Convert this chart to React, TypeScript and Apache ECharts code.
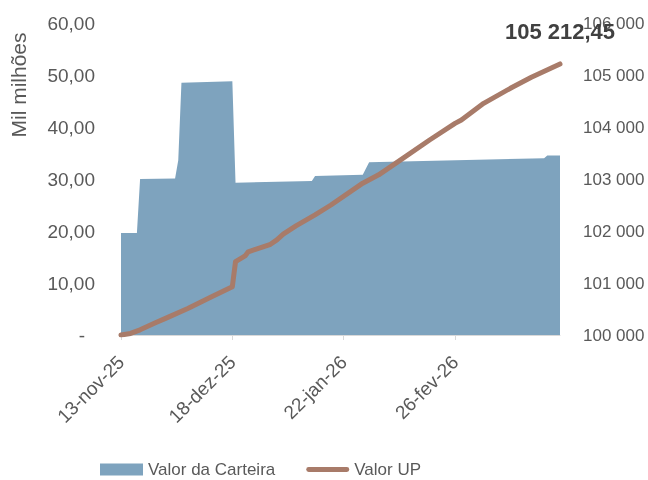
import React, { useEffect, useRef } from "react";
import * as echarts from "echarts";

const START_DATE = "2025-11-13";
const END_DATE = "2026-03-31";
const TICK_DATES = ["2025-11-13", "2025-12-18", "2026-01-22", "2026-02-26"];

const carteiraDates = [
  "2025-11-13", "2025-11-18", "2025-11-19", "2025-11-30", "2025-12-01", "2025-12-02",
  "2025-12-18", "2025-12-19", "2026-01-12", "2026-01-13", "2026-01-28", "2026-01-30",
  "2026-03-26", "2026-03-27", "2026-03-31",
];
const carteiraValues = [
  19.6, 19.6, 30.0, 30.1, 33.6, 48.5,
  48.8, 29.3, 29.6, 30.6, 30.8, 33.2,
  34.0, 34.5, 34.5,
];

const upDates = [
  "2025-11-13", "2025-11-16", "2025-11-19", "2025-11-24", "2025-11-27", "2025-12-04",
  "2025-12-11", "2025-12-18", "2025-12-19", "2025-12-22", "2025-12-23", "2025-12-30",
  "2026-01-01", "2026-01-03", "2026-01-07", "2026-01-13", "2026-01-18", "2026-01-28",
  "2026-02-02", "2026-02-08", "2026-02-18", "2026-02-26", "2026-02-28", "2026-03-07",
  "2026-03-16", "2026-03-22", "2026-03-31",
];
const upValues = [
  100000, 100030, 100100, 100240, 100320, 100510,
  100720, 100930, 101410, 101520, 101600, 101745,
  101830, 101940, 102100, 102310, 102500, 102920,
  103080, 103330, 103750, 104070, 104135, 104455,
  104765, 104955, 105212.45,
];

const MONTHS = ["jan", "fev", "mar", "abr", "mai", "jun", "jul", "ago", "set", "out", "nov", "dez"];
const DAY = 86400000;
const t0 = Date.UTC(2025, 10, 13);
const toIdx = (s: string) => {
  const [y, m, d] = s.split("-").map(Number);
  return Math.round((Date.UTC(y, m - 1, d) - t0) / DAY);
};
const idxToLabel = (i: number) => {
  const dt = new Date(t0 + i * DAY);
  const dd = String(dt.getUTCDate()).padStart(2, "0");
  return `${dd}-${MONTHS[dt.getUTCMonth()]}-${String(dt.getUTCFullYear()).slice(2)}`;
};
const fmtThousands = (v: number) => String(Math.round(v)).replace(/\B(?=(\d{3})+(?!\d))/g, " ");
const fmtUP = (v: number) => {
  const [ip, dp] = v.toFixed(2).split(".");
  return ip.replace(/\B(?=(\d{3})+(?!\d))/g, " ") + "," + dp;
};

const GREY = "#595959";
const FONT = "'Liberation Sans', Arial, sans-serif";
const LINE_ICON = "path://M2.5,0 H42.5 A2.5,2.5 0 0 1 42.5,5 H2.5 A2.5,2.5 0 0 1 2.5,0 Z";

export default function App() {
  const ref = useRef<HTMLDivElement>(null);
  useEffect(() => {
    if (!ref.current) return;
    const chart = echarts.init(ref.current, null, { renderer: "svg" });
    const tickIdx = TICK_DATES.map(toIdx);
    const lastUp = upValues.length - 1;
    chart.setOption({
      animation: false,
      textStyle: { fontFamily: FONT },
      grid: { left: 121, right: 88, top: 23, bottom: 145, containLabel: false },
      legend: {
        left: 100,
        top: 461,
        padding: 0,
        itemWidth: 43,
        itemHeight: 12,
        itemGap: 31,
        textStyle: { color: GREY, fontSize: 17, fontFamily: FONT },
        data: [
          { name: "Valor da Carteira", icon: "rect" },
          { name: "Valor UP", icon: LINE_ICON },
        ],
      },
      xAxis: {
        type: "value",
        min: toIdx(START_DATE),
        max: toIdx(END_DATE),
        interval: 35,
        splitLine: { show: false },
        axisLine: { show: true, lineStyle: { color: "#d9d9d9", width: 1 } },
        axisTick: { show: true, length: 5, lineStyle: { color: "#d9d9d9" }, customValues: tickIdx },
        axisLabel: {
          customValues: tickIdx,
          rotate: 45,
          margin: 24,
          color: GREY,
          fontSize: 19,
          fontFamily: FONT,
          formatter: (v: number) => idxToLabel(v),
        },
      },
      yAxis: [
        {
          type: "value",
          min: 0,
          max: 60,
          interval: 10,
          splitLine: { show: false },
          axisLine: { show: false },
          axisTick: { show: false },
          axisLabel: {
            margin: 26,
            color: GREY,
            fontSize: 19,
            fontFamily: FONT,
            formatter: (v: number) => (v === 0 ? "{d|-}" : v.toFixed(2).replace(".", ",")),
            rich: { d: { padding: [0, 10, 0, 0], color: GREY, fontSize: 19, fontFamily: FONT } },
          },
        },
        {
          type: "value",
          min: 100000,
          max: 106000,
          interval: 1000,
          splitLine: { show: false },
          axisLine: { show: false },
          axisTick: { show: false },
          axisLabel: {
            margin: 23,
            color: GREY,
            fontSize: 17,
            fontFamily: FONT,
            formatter: (v: number) => fmtThousands(v),
          },
        },
      ],
      graphic: [
        {
          type: "text",
          x: 18,
          y: 85,
          rotation: Math.PI / 2,
          style: {
            text: "Mil milhões",
            fill: GREY,
            fontSize: 21,
            fontFamily: FONT,
            align: "center",
            verticalAlign: "middle",
          },
        },
      ],
      series: [
        {
          name: "Valor da Carteira",
          type: "line",
          yAxisIndex: 0,
          symbol: "none",
          color: "#7ea3be",
          lineStyle: { width: 0 },
          areaStyle: { color: "#7ea3be", opacity: 1 },
          data: carteiraDates.map((d, i) => [toIdx(d), carteiraValues[i]]),
          z: 1,
        },
        {
          name: "Valor UP",
          type: "line",
          yAxisIndex: 1,
          symbol: "none",
          color: "#a87b69",
          lineStyle: { width: 5, cap: "round", join: "round", color: "#a87b69" },
          data: upDates.map((d, i) => [toIdx(d), upValues[i]]),
          markPoint: {
            silent: true,
            symbol: "circle",
            symbolSize: 1,
            itemStyle: { color: "rgba(0,0,0,0)" },
            label: {
              show: true,
              position: "top",
              distance: 21,
              color: "#404040",
              fontWeight: "bold",
              fontSize: 22,
              fontFamily: FONT,
              formatter: (p: any) => fmtUP(p.value),
            },
            data: [{ coord: [toIdx(upDates[lastUp]), upValues[lastUp]], value: upValues[lastUp] }],
          },
          z: 2,
        },
      ],
    });
    return () => chart.dispose();
  }, []);
  return (
    <div
      ref={ref}
      style={{ position: "fixed", left: 0, top: 0, width: 648, height: 480 }}
    />
  );
}
